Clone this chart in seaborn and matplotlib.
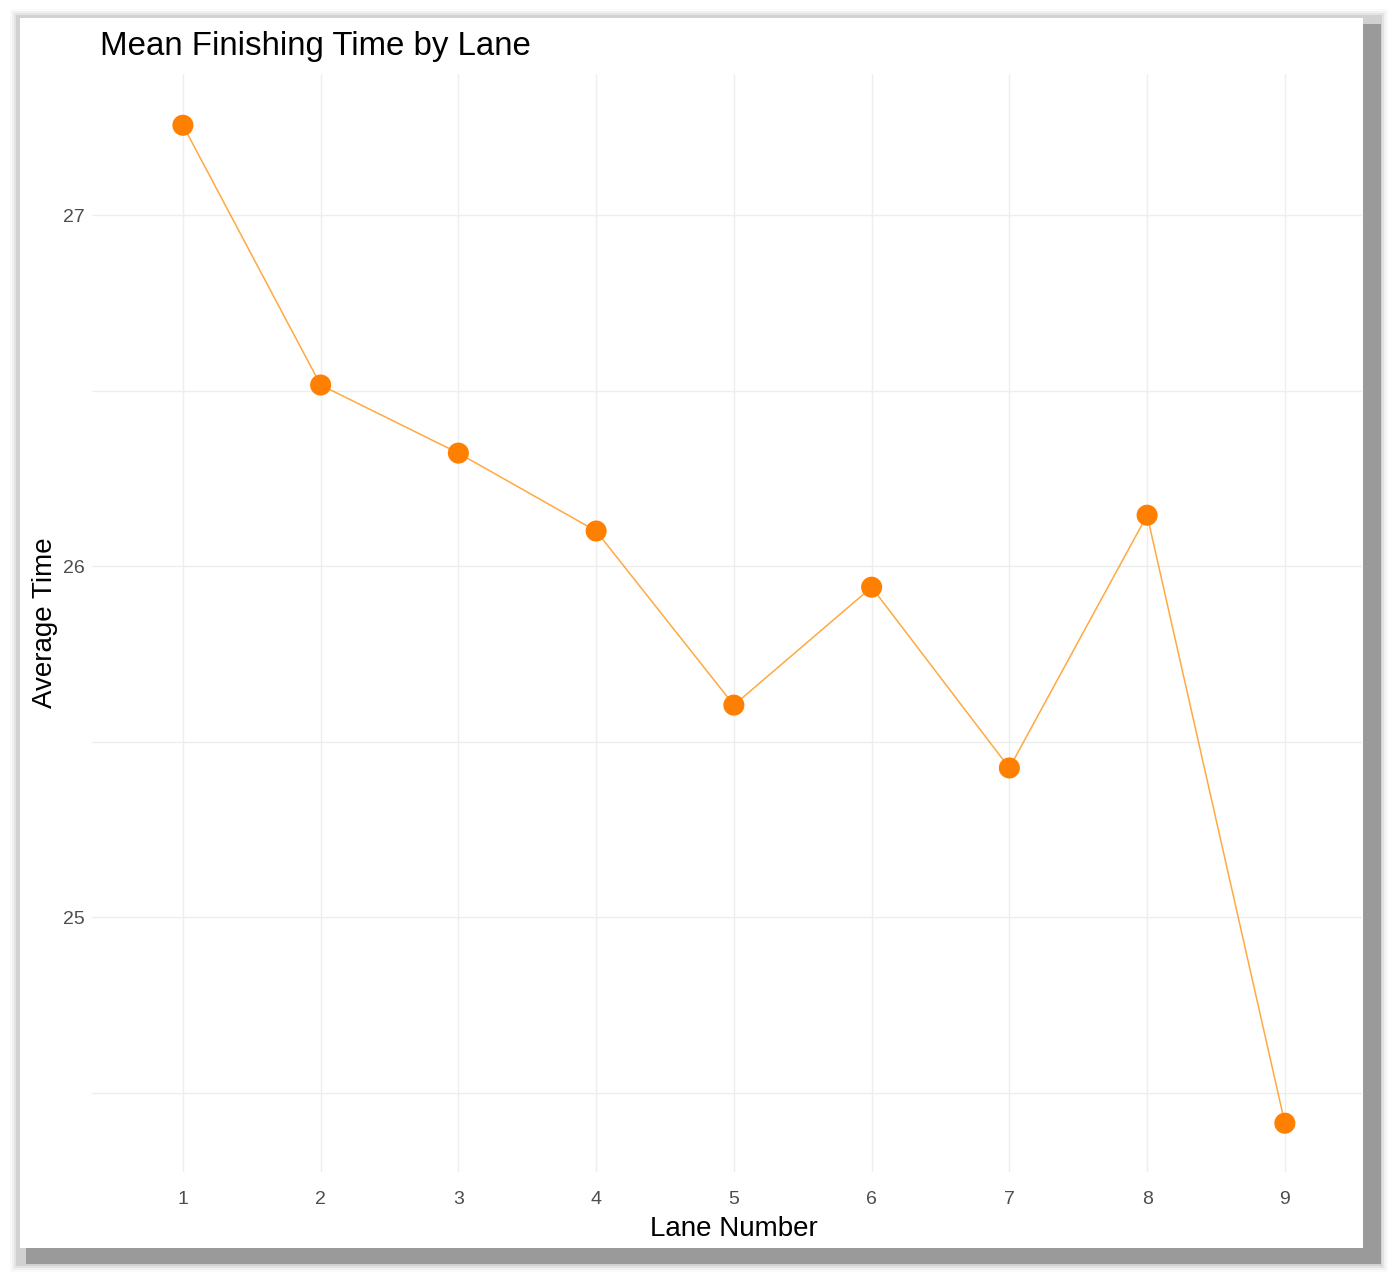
import matplotlib
matplotlib.use("Agg")
import matplotlib.pyplot as plt
from matplotlib.patches import Rectangle
from matplotlib.ticker import MultipleLocator
import pandas as pd
import seaborn as sns

# Data
lanes = [1, 2, 3, 4, 5, 6, 7, 8, 9]
avg_time = [27.256, 26.516, 26.322, 26.100, 25.604, 25.940, 25.425, 26.145, 24.413]
y_ticks = [25, 26, 27]

df = pd.DataFrame({"Lane Number": lanes, "Average Time": avg_time})

W, H = 1400, 1284
sns.set_theme(style="white")
plt.rcParams['font.family'] = ['Liberation Sans', 'DejaVu Sans']

fig = plt.figure(figsize=(W / 100, H / 100), dpi=100)
fig.patch.set_facecolor("white")


def box(x0, y0, x1, y1):
    # pixel box (top-left origin) -> figure fraction rectangle args
    return (x0 / W, 1 - y1 / H), (x1 - x0) / W, (y1 - y0) / H


def card(x0, y0, x1, y1, color, alpha=1.0):
    xy, w, h = box(x0, y0, x1, y1)
    fig.patches.append(Rectangle(xy, w, h, transform=fig.transFigure, facecolor=color,
                                 alpha=alpha, edgecolor="none", zorder=-5))


# soft drop shadow around the white card
for d, a in [(6, 0.04), (4, 0.07), (2, 0.12), (0, 0.18)]:
    card(16 - d, 15 - d, 1382 + d, 1266 + d, "#808080", a)
card(26, 24, 1381, 1264, "#9a9a9a")
card(20, 18, 1363, 1248, "white")

ax = fig.add_axes([92 / W, 1 - 1172 / H, (1362 - 92) / W, (1172 - 74) / H])
ax.set_facecolor("none")

sns.lineplot(data=df, x="Lane Number", y="Average Time", ax=ax,
             color="#ff8c00", linewidth=1.1, alpha=0.75, zorder=3)
sns.scatterplot(data=df, x="Lane Number", y="Average Time", ax=ax,
                color="#ff7f00", s=230, edgecolor="none", zorder=4)

xmin, xmax = 0.34, 9.56
ax.set_xlim(xmin, xmax)
ax.set_ylim(24.274, 27.402)
ax.set_xticks(lanes)
ax.set_yticks(y_ticks)
ax.yaxis.set_minor_locator(MultipleLocator(0.5))

ax.grid(which="major", axis="both", color="#eeeeee", linewidth=1.0, zorder=0)
ax.grid(which="minor", axis="y", color="#eeeeee", linewidth=1.0, zorder=0)
ax.set_axisbelow(True)
for s in ax.spines.values():
    s.set_visible(False)
ax.tick_params(which="both", length=0, labelsize=14, labelcolor="#4d4d4d")
ax.tick_params(axis="x", pad=14)
ax.tick_params(axis="y", pad=5)

ax.set_xlabel("Lane Number", fontsize=20, color="black")
ax.xaxis.set_label_coords((5 - xmin) / (xmax - xmin), -0.040)
ax.set_ylabel("Average Time", fontsize=20, color="black", labelpad=4)
fig.text(100 / W, 1 - 47 / H, "Mean Finishing Time by Lane", fontsize=23.8,
         color="black", ha="left", va="center")

fig.savefig("out.png", dpi=100)
